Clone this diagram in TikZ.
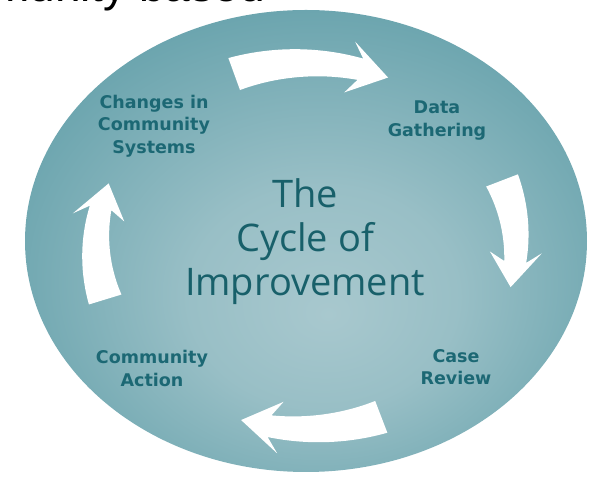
\documentclass[tikz,border=0pt]{standalone}
\usepackage{fontspec}
\newfontfamily\labelfont{DejaVu Sans}
\newfontfamily\titlefont{Open Sans}
\newfontfamily\headfont{Liberation Sans}
\usetikzlibrary{positioning}

\definecolor{tealedge}{RGB}{82,150,161}
\definecolor{tealcenter}{RGB}{168,200,206}
\definecolor{labelteal}{RGB}{28,104,116}
\definecolor{titleteal}{RGB}{24,96,106}

\pgfdeclareradialshading{cycleglow}{\pgfpoint{2bp}{-8bp}}{%
  color(0bp)=(tealcenter);
  color(12bp)=(tealcenter!82!tealedge);
  color(38bp)=(tealedge);
  color(50bp)=(tealedge)}

% centre and radii of the ring the arrows run on
\newcommand{\arcx}{306}
\newcommand{\arcy}{241}
\newcommand{\arcrx}{210}
\newcommand{\arcry}{183}

% white bent arrow: #1 tail angle, #2 tip angle
\newcommand{\turnarrow}[2]{%
  \pgfmathsetmacro\headbase{#2+8}%
  \pgfmathsetmacro\headwing{#2+11}%
  \fill[turnarrow]
    plot[domain=#1:\headbase, samples=24, variable=\t]
      ({\arcx+(\arcrx+17-6*((#1)-(\t))/((#1)-(\headbase)))*cos(\t)},
       {\arcy+(\arcry+17-6*((#1)-(\t))/((#1)-(\headbase)))*sin(\t)})
    -- ({\arcx+(\arcrx+26)*cos(\headwing)}, {\arcy+(\arcry+26)*sin(\headwing)})
    -- ({\arcx+\arcrx*cos(#2)}, {\arcy+\arcry*sin(#2)})
    -- ({\arcx+(\arcrx-26)*cos(\headwing)}, {\arcy+(\arcry-26)*sin(\headwing)})
    -- plot[domain=\headbase:#1, samples=24, variable=\t]
      ({\arcx+(\arcrx-17+6*((#1)-(\t))/((#1)-(\headbase)))*cos(\t)},
       {\arcy+(\arcry-17+6*((#1)-(\t))/((#1)-(\headbase)))*sin(\t)})
    -- cycle;}

\begin{document}
\begin{tikzpicture}[
    x=1pt,
    y=1pt,
    turnarrow/.style={
		fill=white
	},
	stagetext/.style={
		font=\labelfont\bfseries\fontsize{17.5}{22.5}\selectfont,
		text=labelteal,
		align=center,
		inner sep=0pt
	},
	cycletext/.style={
		font=\titlefont\fontsize{38}{44}\selectfont,
		text=titleteal,
		align=center,
		inner sep=0pt
	},
	headtext/.style={
		font=\headfont\fontsize{46}{50}\selectfont,
		text=black,
		inner sep=0pt
	}
  ]

\useasboundingbox (0,0) rectangle (590,487);

% // the ring
\shade[shading=cycleglow] (306,246) ellipse [x radius=281, y radius=231];

% // the four arrows
\turnarrow{110}{67}
\turnarrow{21}{-13}
\turnarrow{-69}{-108}
\turnarrow{197}{160}

% // texts
\node [headtext, anchor=base east] (heading) at (265,485) {Community based};

\node [cycletext] (cycle) at (305,245.5) {The\\Cycle of\\Improvement};

\node [stagetext] (changes) at (154,361) {Changes in\\Community\\Systems};
\node [stagetext] (data) at (437,366.6) {Data\\Gathering};
\node [stagetext] (review) at (456,120) {Case\\Review};
\node [stagetext] (action) at (152,118.7) {Community\\Action};

\end{tikzpicture}
\end{document}
